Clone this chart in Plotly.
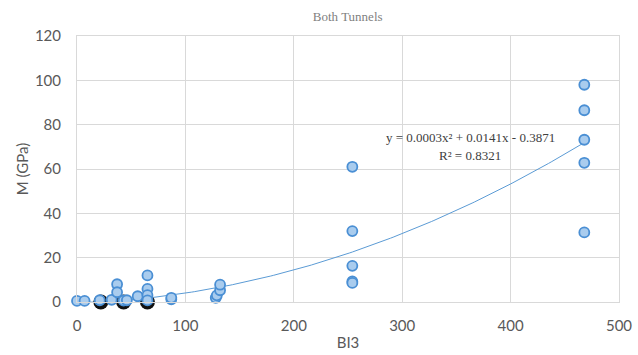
import numpy as np
import plotly.graph_objects as go

# BI3 vs M (GPa) observations
bi3 = [0, 7, 21, 32, 37, 37, 43, 46, 56, 65, 65, 65, 65, 87, 87,
       128, 129, 132, 132,
       254, 254, 254, 254, 254,
       468, 468, 468, 468, 468]
m_gpa = [0.5, 0.5, 0.8, 1.0, 8.0, 4.4, 0.6, 0.8, 2.6, 12.0, 5.9, 3.1, 0.7, 1.2, 1.9,
         1.9, 3.0, 5.3, 7.8,
         61.0, 32.0, 16.3, 9.3, 8.6,
         98.0, 86.5, 73.2, 62.8, 31.4]

# dense overlap (dark shadow clusters at the axis)
shadow_x = [22, 43, 65]
shadow_y = [0, 0, 0]

# polynomial trend coefficients (as shown on the chart)
coef_a, coef_b, coef_c = 0.0003, 0.0141, -0.3871
r2 = 0.8321
trend_x_range = [0, 468]

x_ticks = [0, 100, 200, 300, 400, 500]
y_ticks = [0, 20, 40, 60, 80, 100, 120]

tx = np.linspace(trend_x_range[0], trend_x_range[1], 200)
ty = coef_a * tx**2 + coef_b * tx + coef_c

fig = go.Figure()
fig.add_trace(go.Scatter(x=tx, y=ty, mode="lines",
                         line=dict(color="#5B9BD5", width=1), hoverinfo="skip",
                         cliponaxis=False))
fig.add_trace(go.Scatter(x=shadow_x, y=shadow_y, mode="markers",
                         marker=dict(size=15, color="#111111", line=dict(width=0)),
                         cliponaxis=False))
fig.add_trace(go.Scatter(x=bi3, y=m_gpa, mode="markers",
                         marker=dict(size=10, color="#A9CCEE",
                                     line=dict(color="#4A8FD4", width=1.8)),
                         cliponaxis=False))

grid = "#D9D9D9"
tick_font = dict(family="Lato, Open Sans, sans-serif", size=15, color="#595959")
eq_font = dict(family="Liberation Serif, serif", size=13, color="#404040")
fig.update_layout(
    width=638, height=355,
    margin=dict(l=77, r=19, t=36, b=53),
    paper_bgcolor="white", plot_bgcolor="white",
    showlegend=False,
    title=dict(text="Both Tunnels", x=0.545, xanchor="center", y=0.955, yanchor="middle",
               font=dict(family="Liberation Serif, serif", size=13, color="#7F7F7F")),
    xaxis=dict(range=[0, 500], tickvals=x_ticks, showgrid=True, gridcolor=grid,
               zeroline=False, showline=True, linecolor=grid, mirror=True,
               tickfont=tick_font, ticklabelstandoff=10, automargin=False,
               title=dict(text="BI3", font=tick_font, standoff=4)),
    yaxis=dict(range=[0, 120], tickvals=y_ticks, showgrid=True, gridcolor=grid,
               zeroline=False, showline=True, linecolor=grid, mirror=True,
               tickfont=tick_font, ticklabelstandoff=12, automargin=False,
               title=dict(text="M (GPa)", font=tick_font, standoff=2)),
)
pw, ph = 638 - 77 - 19, 355 - 36 - 53
fig.add_annotation(x=(470 - 77) / pw, y=(302 - 137) / ph, xref="paper", yref="paper",
                   xanchor="center", yanchor="middle", showarrow=False,
                   text=f"y = {coef_a}x² + {coef_b}x - {abs(coef_c)}", font=eq_font)
fig.add_annotation(x=(470 - 77) / pw, y=(302 - 155) / ph, xref="paper", yref="paper",
                   xanchor="center", yanchor="middle", showarrow=False,
                   text=f"R² = {r2}", font=eq_font)

fig.write_html("out.html")
